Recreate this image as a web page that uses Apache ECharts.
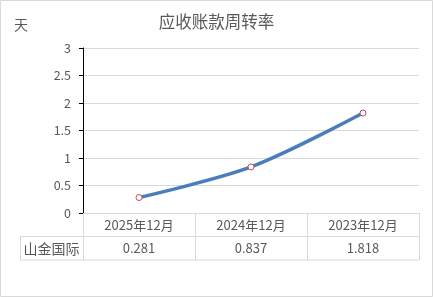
<!DOCTYPE html>
<html><head><meta charset="utf-8">
<script src="https://cdn.jsdelivr.net/npm/echarts@6/dist/echarts.min.js"></script>
<style>html,body{margin:0;padding:0;background:#fff}#c{width:433px;height:297px}</style>
</head><body><div id="c"></div>
<script>
const title = '应收账款周转率';
const unitLabel = '天';
const categories = ['2025年12月', '2024年12月', '2023年12月'];
const seriesName = '山金国际';
const values = [0.281, 0.837, 1.818];
const yTicks = [0, 0.5, 1, 1.5, 2, 2.5, 3];

const FONT = '"Noto Sans CJK SC", "Microsoft YaHei", sans-serif';
const TXT = '#595959';
const GRID = '#d9d9d9';
const chart = echarts.init(document.getElementById('c'), null, {renderer: 'canvas'});
const gridL = 83, gridR = 14, gridT = 48, gridB = 84;
const W = 433, H = 297;
const rowH = 23.5;

chart.setOption({
  animation: false,
  textStyle: {fontFamily: FONT},
  title: {text: title, left: 'center', top: 8, textStyle: {fontFamily: FONT, fontSize: 16.5, fontWeight: 'normal', color: TXT}},
  grid: {left: gridL, right: gridR, top: gridT, bottom: gridB},
  xAxis: {
    type: 'category', data: categories, boundaryGap: true,
    axisLine: {show: true, lineStyle: {color: GRID, width: 1}},
    axisTick: {show: true, length: rowH * 2, lineStyle: {color: GRID}},
    axisLabel: {color: TXT, fontSize: 13, margin: 6, fontFamily: FONT}
  },
  yAxis: {
    type: 'value', min: yTicks[0], max: yTicks[yTicks.length - 1], interval: 0.5,
    axisLine: {show: true, lineStyle: {color: '#000', width: 1}},
    axisTick: {show: true, length: 4, lineStyle: {color: '#000'}},
    axisLabel: {color: TXT, fontSize: 12.5, margin: 12, fontFamily: FONT},
    splitLine: {show: true, lineStyle: {color: GRID, width: 1}}
  },
  series: [{
    name: seriesName, type: 'line', data: values, smooth: 0.3,
    lineStyle: {color: '#4a7ebb', width: 3.5},
    symbol: 'circle', symbolSize: 6,
    itemStyle: {color: '#fff', borderColor: '#c0504d', borderWidth: 1},
    z: 3
  }]
});

const y0 = H - gridB;
const xR = W - gridR;
const graphics = [
  {type: 'rect', shape: {x: 0.5, y: 0.5, width: W - 1, height: H - 1}, style: {fill: null, stroke: GRID, lineWidth: 1}, silent: true},
  {type: 'text', left: 14, top: 18, style: {text: unitLabel, fill: TXT, font: '14px ' + FONT}},
  {type: 'line', shape: {x1: 20, y1: y0 + rowH, x2: xR, y2: y0 + rowH}, style: {stroke: GRID, lineWidth: 1}},
  {type: 'line', shape: {x1: 20, y1: y0 + rowH * 2, x2: xR, y2: y0 + rowH * 2}, style: {stroke: GRID, lineWidth: 1}},
  {type: 'line', shape: {x1: 20.5, y1: y0 + rowH, x2: 20.5, y2: y0 + rowH * 2}, style: {stroke: GRID, lineWidth: 1}},
  {type: 'text', x: (20 + gridL) / 2, y: y0 + rowH * 1.5, style: {text: seriesName, fill: TXT, font: '14px ' + FONT, align: 'center', verticalAlign: 'middle'}}
];
values.forEach((v, i) => {
  const px = chart.convertToPixel({xAxisIndex: 0}, categories[i]);
  graphics.push({type: 'text', x: px, y: y0 + rowH * 1.5, style: {text: v.toFixed(3), fill: TXT, font: '13px ' + FONT, align: 'center', verticalAlign: 'middle'}});
});
chart.setOption({graphic: graphics});
</script></body></html>
